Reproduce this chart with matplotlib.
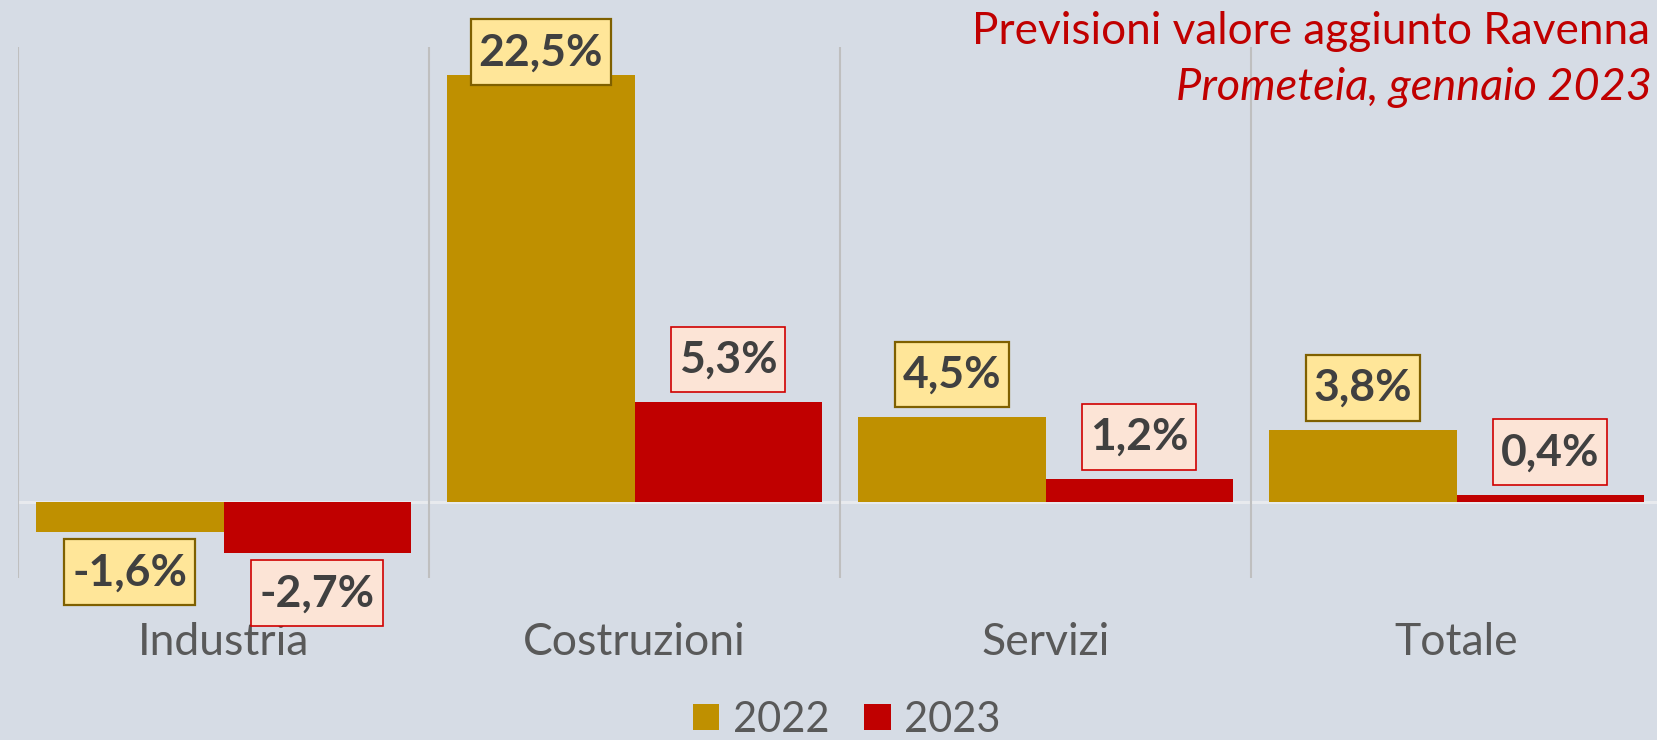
import matplotlib
matplotlib.use("Agg")
import matplotlib.pyplot as plt
from matplotlib.path import Path
import numpy as np

plt.rcParams['font.family'] = ['Lato', 'DejaVu Sans']

categories = ['Industria', 'Costruzioni', 'Servizi', 'Totale']
years = ['2022', '2023']
values_2022 = [-1.6, 22.5, 4.5, 3.8]
values_2023 = [-2.7, 5.3, 1.2, 0.4]
title = 'Previsioni valore aggiunto Ravenna'
subtitle = 'Prometeia, gennaio 2023'

bg = '#D6DCE5'
bar_colors = ['#BF9000', '#C00000']
box_fill = ['#FFE699', '#FCE4D6']
box_edge = ['#7F6000', '#D00000']
box_lw = [1.6, 1.2]


def label_box(x0, y0, width, height, mutation_size, padx=0.18, pady=0.29):
    # rectangle with separate horizontal / vertical padding (Excel label look)
    px, py = padx * mutation_size, pady * mutation_size
    x1, y1 = x0 - px, y0 - py
    x2, y2 = x0 + width + px, y0 + height + py
    return Path([(x1, y1), (x2, y1), (x2, y2), (x1, y2), (x1, y1)], closed=True)


W, H = 1658, 740
fig = plt.figure(figsize=(W / 100, H / 100), dpi=100, facecolor=bg)
# plot area in pixels: left 18, right 1662, top 47, bottom 578
ax = fig.add_axes([18 / W, (H - 578) / H, 1644 / W, (578 - 47) / H])
ax.set_facecolor(bg)

x = np.arange(len(categories))
width = 0.455
series = [values_2022, values_2023]
offsets = [-width / 2, width / 2]

for i, vals in enumerate(series):
    ax.bar(x + offsets[i], vals, width, color=bar_colors[i], label=years[i], zorder=2)

ax.set_xlim(-0.5, len(categories) - 0.5)
ax.set_ylim(-4, 24)

# category separators
ax.set_xticks(np.arange(-0.5, len(categories), 1.0), minor=True)
ax.grid(which='minor', axis='x', color='#BFBFBF', linewidth=1.5, zorder=0)
ax.axhline(0, color='#E8EAEE', linewidth=2.2, zorder=1)

ax.set_xticks(x, categories)
ax.tick_params(axis='x', which='both', length=0, pad=32, labelsize=32, labelcolor='#595959')
ax.set_yticks([])
for s in ax.spines.values():
    s.set_visible(False)

# data labels; keep the tallest one inside the chart like Excel does
label_cap = 21.5
for i, vals in enumerate(series):
    for xi, v in zip(x + offsets[i], vals):
        txt = f'{v:.1f}%'.replace('.', ',')
        if v >= 0:
            anchor, dy, va = min(v, label_cap), 16, 'bottom'
        else:
            anchor, dy, va = v, -14.3, 'top'
        ax.annotate(txt, (xi, anchor), xytext=(0, dy), textcoords='offset points',
                    ha='center', va=va, fontsize=32, fontweight='bold', color='#404040',
                    bbox=dict(boxstyle=label_box, fc=box_fill[i], ec=box_edge[i],
                              lw=box_lw[i]), zorder=5)

fig.text(1650 / W, (H - 44) / H, title, ha='right', va='baseline',
         fontsize=31.8, color='#C00000')
fig.text(1652 / W, (H - 100) / H, subtitle, ha='right', va='baseline',
         fontsize=32.5, color='#C00000', style='italic')

fig.legend(loc='center', bbox_to_anchor=(847 / W, (H - 720) / H), ncol=2, frameon=False,
           fontsize=30, labelcolor='#595959', handlelength=0.63, handleheight=0.58,
           handletextpad=0.33, columnspacing=0.84, borderpad=0)

fig.savefig('out.png', dpi=100, facecolor=bg)
